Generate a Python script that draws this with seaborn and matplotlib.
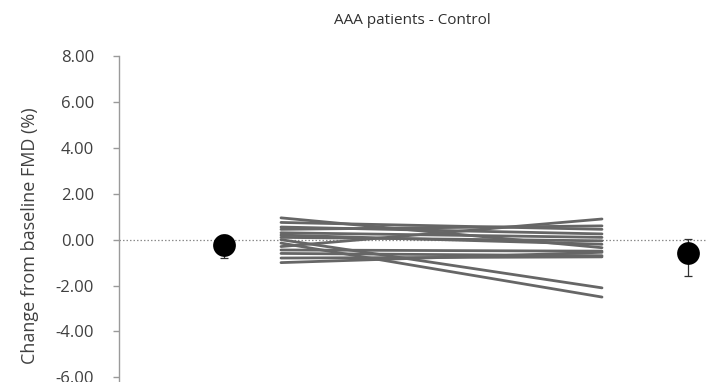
import numpy as np
import pandas as pd
import matplotlib
matplotlib.use("Agg")
import matplotlib.pyplot as plt
import seaborn as sns

# Individual patient changes at the two measurement points
before_change = [0.95, 0.75, 0.55, 0.45, 0.30, 0.20, 0.10, 0.00, -0.15, -0.30, -0.45, -0.60, -0.80, -1.00]
after_change = [-0.35, 0.45, 0.25, 0.60, 0.10, -0.20, -0.05, -2.10, -2.50, 0.90, -0.50, -0.70, -0.75, -0.55]

# Group summary (mean with lower / upper error)
summary_mean = [-0.25, -0.60]
summary_err_low = [0.55, 1.00]
summary_err_high = [0.45, 0.65]

yticks = [-6, -4, -2, 0, 2, 4, 6, 8]
title = "AAA patients - Control"
ylabel = "Change from baseline FMD (%)"

# horizontal layout of the four columns (axis units)
x_summary = [2.24, 6.88]
x_patients = [2.81, 6.02]

sns.set_style("white")
plt.rcParams["font.family"] = ["Open Sans", "DejaVu Sans"]

long = pd.DataFrame({
    "patient": list(range(len(before_change))) * 2,
    "x": [x_patients[0]] * len(before_change) + [x_patients[1]] * len(after_change),
    "change": before_change + after_change,
})

fig = plt.figure(figsize=(7.06, 3.82), dpi=100)
ax = fig.add_axes([119 / 706, 0.0, 1 - 119 / 706, 1 - 56 / 382])

ax.axhline(0, color="#8c8c8c", lw=0.9, ls=(0, (1.2, 1.6)), zorder=1)

sns.lineplot(data=long, x="x", y="change", units="patient", estimator=None,
             color="#666666", lw=2.0, ax=ax, zorder=2, legend=False)

ax.errorbar(x_summary, summary_mean, yerr=[summary_err_low, summary_err_high],
            fmt="none", ecolor="#303030", elinewidth=0.9, capsize=3, capthick=0.9, zorder=3)
sns.scatterplot(x=x_summary, y=summary_mean, s=230, color="black", edgecolor="black",
                ax=ax, zorder=4, legend=False)

ax.set_xlim(1.19, 7.06)
ax.set_ylim(-6.2, 8.0)
ax.set_yticks(yticks)
ax.set_yticklabels([f"{v:.2f}" for v in yticks])
ax.set_xticks([])
ax.set_xlabel("")
ax.set_ylabel(ylabel, fontsize=13, color="#404040")
ax.yaxis.set_label_coords(-0.136, 0.45)
ax.set_title(title, fontsize=11, color="#303030", pad=23)

for side in ["top", "right", "bottom"]:
    ax.spines[side].set_visible(False)
ax.spines["left"].set_color("#9a9a9a")
ax.spines["left"].set_linewidth(1.0)
ax.tick_params(axis="y", left=True, length=4, width=1, color="#9a9a9a",
               labelsize=12, labelcolor="#404040", pad=14)

fig.savefig("out.png", dpi=100)
